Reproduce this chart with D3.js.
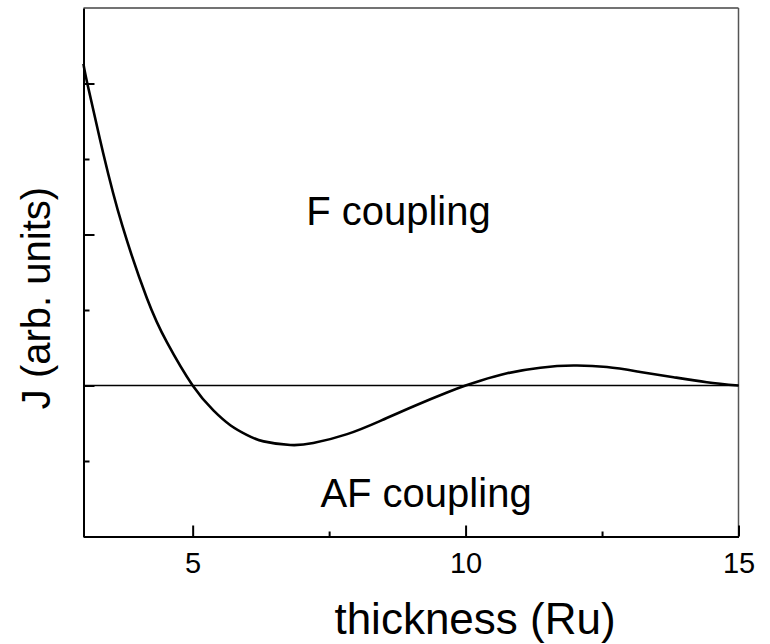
<!DOCTYPE html>
<html><head><meta charset="utf-8">
<script src="https://cdn.jsdelivr.net/npm/d3@7"></script>
<style>
body{margin:0;background:#fff;}
text{font-family:Arial,"Liberation Sans",sans-serif;fill:#000;}
</style></head>
<body><svg id="c" width="770" height="644"></svg>
<script>
const thickness = [3.0, 3.07, 3.36, 3.71, 4.16, 4.53, 5.0, 5.38, 5.69, 5.99, 6.3, 6.79, 7.21, 7.83, 8.44, 9.05, 9.66, 10.0, 10.27, 10.76, 11.37, 11.98, 12.59, 13.2, 13.81, 14.42, 15.0];
const coupling  = [2.13, 2.0, 1.54, 1.06, 0.58, 0.285, 0.0, -0.165, -0.263, -0.327, -0.37, -0.394, -0.381, -0.322, -0.234, -0.137, -0.046, 0.0, 0.032, 0.081, 0.118, 0.132, 0.122, 0.09, 0.055, 0.022, 0.0];
const xMajorTicks = [5, 10, 15];
const xMinorTicks = [7.5, 12.5];
const yMajorTicks = [-1, 0, 1, 2];
const yMinorTicks = [-0.5, 0.5, 1.5];
const xTitle = "thickness (Ru)";
const yTitle = "J (arb. units)";
const labels = [{text:"F coupling", x:7.08, y:1.06}, {text:"AF coupling", x:7.34, y:-0.805}];

const svg = d3.select("#c");
const L=83.5, R=738.5, T=8, B=536.5;
const x = d3.scaleLinear().domain([3,15]).range([L,R]);
const y = d3.scaleLinear().domain([-1,2.5]).range([B,T]);

// frame top/right
svg.append("line").attr("x1",L).attr("x2",R).attr("y1",T).attr("y2",T).attr("stroke","#444").attr("stroke-width",1.5);
svg.append("line").attr("x1",R).attr("x2",R).attr("y1",T).attr("y2",B).attr("stroke","#555").attr("stroke-width",1.5);

// x axis
const gx = svg.append("g").attr("transform",`translate(0,${B})`)
  .call(d3.axisBottom(x).tickValues(xMajorTicks).tickSize(-11).tickSizeOuter(0).tickPadding(16).tickFormat(d3.format("d")));
const gxm = gx.append("g").call(d3.axisBottom(x).tickValues(xMinorTicks).tickSize(-5).tickSizeOuter(0).tickFormat(""));
gxm.select("path.domain").remove();
gx.selectAll("path.domain").attr("stroke","#000").attr("stroke-width",2);
gx.selectAll(".tick line").attr("stroke","#000").attr("stroke-width",2);
gx.selectAll("text").style("font-size","29px").attr("fill","#000");

// y axis
const gy = svg.append("g").attr("transform",`translate(${L},0)`)
  .call(d3.axisLeft(y).tickValues(yMajorTicks).tickSize(-11).tickSizeOuter(0).tickFormat(""));
const gym = gy.append("g").call(d3.axisLeft(y).tickValues(yMinorTicks).tickSize(-6).tickSizeOuter(0).tickFormat(""));
gym.select("path.domain").remove();
gy.selectAll("path.domain").attr("stroke","#000").attr("stroke-width",2);
gy.selectAll(".tick line").attr("stroke","#000").attr("stroke-width",2);

// zero line
svg.append("line").attr("x1",x(3)).attr("x2",x(15)).attr("y1",y(0)).attr("y2",y(0)).attr("stroke","#000").attr("stroke-width",1.5);

// curve
const pts = thickness.map((t,i)=>[t,coupling[i]]);
svg.append("path").datum(pts)
  .attr("fill","none").attr("stroke","#000").attr("stroke-width",2.6)
  .attr("d", d3.line().x(d=>x(d[0])).y(d=>y(d[1])).curve(d3.curveNatural));

// labels
labels.forEach(l=>{
  svg.append("text").attr("x",x(l.x)).attr("y",y(l.y)).style("font-size","40px").text(l.text);
});

// titles
svg.append("text").attr("x",475).attr("y",634).attr("text-anchor","middle").style("font-size","44px").text(xTitle);
svg.append("text").attr("transform","translate(50,298) rotate(-90)").attr("text-anchor","middle").style("font-size","40px").text(yTitle);
</script></body></html>
